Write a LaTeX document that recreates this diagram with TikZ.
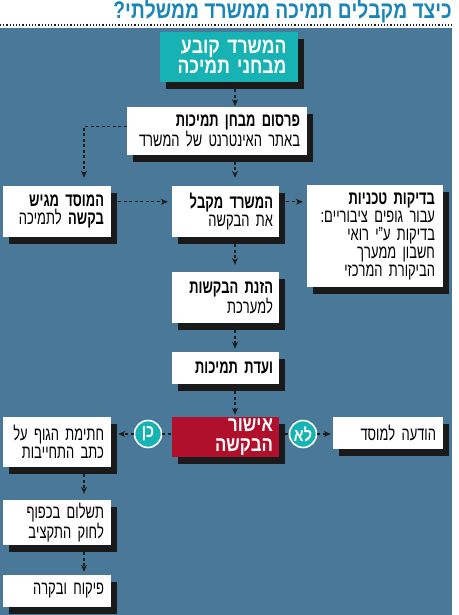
\documentclass[tikz,border=0pt]{standalone}
\usepackage{fontspec}
\setmainfont{Liberation Sans}[FakeStretch=0.68]
\newfontfamily\widefont{Liberation Sans}[FakeStretch=0.8]
\TeXXeTstate=1
\usetikzlibrary{arrows.meta,shadows,calc}
\definecolor{panelc}{HTML}{4A7898}
\definecolor{tealc}{HTML}{16B2B4}
\definecolor{redc}{HTML}{B0102B}
\definecolor{shadowc}{HTML}{1A1A1A}
\definecolor{titlec}{HTML}{1A86B8}
\definecolor{arrc}{HTML}{1E1E1E}
\newcommand\myrtl[1]{\beginR#1\endR}
\begin{document}
\begin{tikzpicture}[x=1pt,y=-1pt,
  box/.style={fill=white, inner xsep=7pt, inner ysep=0pt, align=right,
    font=\fontsize{19}{18}\selectfont, text=black,
    drop shadow={opacity=1, fill=shadowc, shadow xshift=6pt, shadow yshift=-7pt}},
  arr/.style={draw=arrc, line width=1.1pt, dash pattern=on 3pt off 2.5pt,
    -{Stealth[length=7pt,width=6pt]}},
  seg/.style={draw=arrc, line width=1.1pt, dash pattern=on 3pt off 2.5pt},
  circ/.style={circle, fill=tealc, draw=white, line width=1.6pt, minimum size=27pt,
    inner sep=0pt, text=white, font=\widefont\bfseries\fontsize{18}{18}\selectfont}
]
\useasboundingbox (0,0) rectangle (458,615);
\fill[white] (0,0) rectangle (458,615);
\fill[panelc] (0,28) rectangle (452,615);
\node[anchor=base east, text=titlec, font=\widefont\bfseries\fontsize{24}{24}\selectfont, inner sep=0pt] (title) at (452,19) {\myrtl{כיצד מקבלים תמיכה ממשרד ממשלתי?}};
\coordinate (dl) at (0,25);
\coordinate (dr) at (453,25);
\draw[draw=arrc, line width=1.2pt, dash pattern=on 1.2pt off 2pt] (dl) -- (dr);

\node[box, fill=tealc, text=white, inner xsep=11pt, text width=116pt, minimum height=50pt,
  font=\widefont\bfseries\fontsize{22}{20}\selectfont] (b1) at (228.5,57)
  {\myrtl{המשרד קובע}\\\myrtl{מבחני תמיכה}};
\node[box, text width=166pt, minimum height=47pt] (b2) at (217,131)
  {\myrtl{\textbf{פרסום מבחן תמיכות}}\\\myrtl{באתר האינטרנט של המשרד}};
\node[box, text width=94pt, minimum height=51pt] (l) at (57,211.5)
  {\myrtl{\textbf{המוסד מגיש}}\\\myrtl{\textbf{בקשה} לתמיכה}};
\node[box, inner xsep=6pt, text width=95pt, minimum height=51pt] (c) at (225.5,211.5)
  {\myrtl{\textbf{המשרד מקבל}}\\\myrtl{את הבקשה}};
\node[box, inner xsep=8pt, text width=120pt, minimum height=102pt] (r) at (375,236)
  {\myrtl{\textbf{בדיקות טכניות}}\\\myrtl{עבור גופים ציבוריים:}\\\myrtl{בדיקות ע"י רואי}\\\myrtl{חשבון ממערך}\\\myrtl{הביקורת המרכזי}};
\node[box, inner xsep=6pt, text width=95pt, minimum height=51pt] (z) at (225.5,297.5)
  {\myrtl{\textbf{הזנת הבקשות}}\\\myrtl{למערכת}};
\node[box, inner xsep=6pt, text width=95pt, minimum height=32pt] (v) at (225.5,368)
  {\myrtl{\textbf{ועדת תמיכות}}};
\node[box, fill=redc, text=white, inner xsep=6pt, text width=95pt, minimum height=40pt,
  font=\widefont\bfseries\fontsize{21}{20}\selectfont] (ok) at (225.5,437)
  {\myrtl{אישור}\\\myrtl{הבקשה}};
\node[circ] (no) at (303,434) {\myrtl{לא}};
\node[circ] (yes) at (148,434) {\myrtl{כן}};
\node[box, text width=96pt, minimum height=32pt] (msg) at (388,433)
  {\myrtl{הודעה למוסד}};
\node[box, text width=94pt, minimum height=50pt] (sign) at (57,442)
  {\myrtl{חתימת הגוף על}\\\myrtl{כתב התחייבות}};
\node[box, text width=94pt, minimum height=45pt] (pay) at (57,522.5)
  {\myrtl{תשלום בכפוף}\\\myrtl{לחוק התקציב}};
\node[box, text width=94pt, minimum height=32pt] (sup) at (57,591)
  {\myrtl{פיקוח ובקרה}};

\coordinate (ax) at (235,0);
\coordinate (lx) at (84,0);
\draw[arr] ($(b1.south -| ax)+(0,7)$) -- ($(b2.north -| ax)+(0,-1)$);
\draw[arr] ($(b2.north west)+(0,19)$) -| ($(l.north -| lx)+(0,-8)$);
\draw[arr] ($(b2.south -| ax)+(0,7)$) -- ($(c.north -| ax)+(0,-8)$);
\draw[arr] ($(l.north east)+(7,16)$) -- ($(c.north west)+(-4,16)$);
\draw[arr] ($(c.north east)+(7,16)$) -- ($(r.north west)+(-4,17)$);
\draw[arr] ($(c.south -| ax)+(0,7)$) -- ($(z.north -| ax)+(0,-7)$);
\draw[arr] ($(z.south -| ax)+(0,7)$) -- ($(v.north -| ax)+(0,-3)$);
\draw[arr] ($(v.south -| ax)+(0,7)$) -- ($(ok.north -| ax)+(0,-2)$);
\draw[seg] ($(ok.east)+(6,-3)$) -- (no.west);
\draw[arr] (no.east) -- ($(msg.west)+(-2,1)$);
\draw[seg] ($(ok.west)+(-1,-3)$) -- (yes.east);
\draw[arr] (yes.west) -- ($(sign.east)+(7,-8)$);
\draw[arr] ($(sign.south -| lx)+(0,7)$) -- ($(pay.north -| lx)+(0,-6)$);
\draw[arr] ($(pay.south -| lx)+(0,7)$) -- ($(sup.north -| lx)+(0,-3)$);
\end{tikzpicture}
\end{document}
